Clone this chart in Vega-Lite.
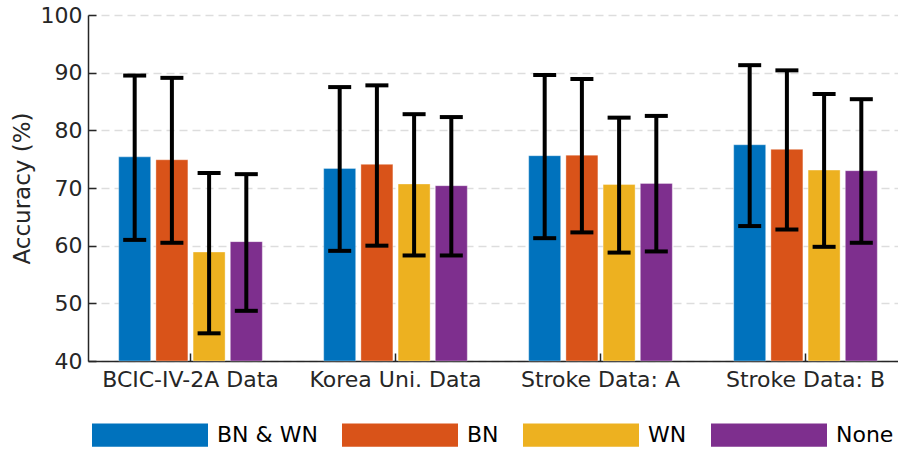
{
  "$schema": "https://vega.github.io/schema/vega-lite/v6.json",
  "width": 820,
  "height": 346,
  "autosize": {"type": "none"},
  "padding": {"left": 88, "top": 15, "right": -10, "bottom": 90},
  "background": "white",
  "config": {"view": {"stroke": null}, "font": "DejaVu Sans"},
  "data": {
    "values": [
      {"dataset": "BCIC-IV-2A Data", "norm": "BN & WN", "mean": 75.4, "lo": 61.0, "hi": 89.5},
      {"dataset": "BCIC-IV-2A Data", "norm": "BN", "mean": 74.9, "lo": 60.5, "hi": 89.1},
      {"dataset": "BCIC-IV-2A Data", "norm": "WN", "mean": 58.9, "lo": 44.8, "hi": 72.6},
      {"dataset": "BCIC-IV-2A Data", "norm": "None", "mean": 60.7, "lo": 48.7, "hi": 72.4},
      {"dataset": "Korea Uni. Data", "norm": "BN & WN", "mean": 73.4, "lo": 59.1, "hi": 87.5},
      {"dataset": "Korea Uni. Data", "norm": "BN", "mean": 74.1, "lo": 60.0, "hi": 87.8},
      {"dataset": "Korea Uni. Data", "norm": "WN", "mean": 70.7, "lo": 58.3, "hi": 82.8},
      {"dataset": "Korea Uni. Data", "norm": "None", "mean": 70.4, "lo": 58.3, "hi": 82.3},
      {"dataset": "Stroke Data: A", "norm": "BN & WN", "mean": 75.6, "lo": 61.3, "hi": 89.6},
      {"dataset": "Stroke Data: A", "norm": "BN", "mean": 75.7, "lo": 62.3, "hi": 88.9},
      {"dataset": "Stroke Data: A", "norm": "WN", "mean": 70.6, "lo": 58.8, "hi": 82.2},
      {"dataset": "Stroke Data: A", "norm": "None", "mean": 70.8, "lo": 59.0, "hi": 82.5},
      {"dataset": "Stroke Data: B", "norm": "BN & WN", "mean": 77.5, "lo": 63.4, "hi": 91.3},
      {"dataset": "Stroke Data: B", "norm": "BN", "mean": 76.7, "lo": 62.8, "hi": 90.4},
      {"dataset": "Stroke Data: B", "norm": "WN", "mean": 73.1, "lo": 59.8, "hi": 86.3},
      {"dataset": "Stroke Data: B", "norm": "None", "mean": 73.0, "lo": 60.5, "hi": 85.4}
    ]
  },
  "encoding": {
    "x": {
      "field": "dataset",
      "type": "nominal",
      "sort": ["BCIC-IV-2A Data", "Korea Uni. Data", "Stroke Data: A", "Stroke Data: B"],
      "scale": {"paddingInner": 0.274, "paddingOuter": 0.137},
      "axis": {
        "title": null,
        "labelAngle": 0,
        "labelFontSize": 22,
        "labelColor": "#262626",
        "labelPadding": 16,
        "tickSize": -8,
        "tickColor": "#262626",
        "tickWidth": 1.5,
        "domainColor": "#262626",
        "domainWidth": 1.5,
        "grid": false
      }
    },
    "xOffset": {
      "field": "norm",
      "type": "nominal",
      "sort": ["BN & WN", "BN", "WN", "None"],
      "scale": {"paddingInner": 0.14, "paddingOuter": 0.07}
    }
  },
  "layer": [
    {
      "mark": {"type": "bar", "stroke": "white", "strokeOpacity": 0.35, "strokeWidth": 1},
      "encoding": {
        "y": {
          "field": "mean",
          "type": "quantitative",
          "title": "Accuracy (%)",
          "scale": {"domain": [40, 100], "nice": false, "zero": false},
          "axis": {
            "values": [40, 50, 60, 70, 80, 90, 100],
            "titleFontSize": 23,
            "titleFontWeight": "normal",
            "titleColor": "#262626",
            "titlePadding": 6,
            "labelFontSize": 22,
            "labelColor": "#262626",
            "labelPadding": 14,
            "tickSize": -8,
            "tickColor": "#262626",
            "tickWidth": 1.5,
            "domainColor": "#262626",
            "domainWidth": 1.5,
            "grid": true,
            "gridDash": [8, 5],
            "gridColor": "#dddddd",
            "gridWidth": 1.5
          }
        },
        "y2": {"datum": 40},
        "color": {
          "field": "norm",
          "type": "nominal",
          "scale": {
            "domain": ["BN & WN", "BN", "WN", "None"],
            "range": ["#0072BD", "#D95319", "#EDB120", "#7E2F8E"]
          },
          "legend": {
            "orient": "none",
            "direction": "horizontal",
            "legendX": 4,
            "legendY": 362,
            "title": null,
            "symbolType": "M-1,-0.2H1V0.2H-1Z",
            "symbolSize": 13456,
            "symbolStrokeWidth": 0,
            "symbolOpacity": 1,
            "labelFontSize": 22,
            "labelColor": "black",
            "labelOffset": 9,
            "columnPadding": 24
          }
        }
      }
    },
    {
      "mark": {"type": "rule", "color": "black", "strokeWidth": 4},
      "encoding": {
        "y": {"field": "lo", "type": "quantitative", "title": "Accuracy (%)"},
        "y2": {"field": "hi"}
      }
    },
    {
      "mark": {"type": "tick", "color": "black", "orient": "horizontal", "size": 23, "thickness": 4, "opacity": 1},
      "encoding": {
        "y": {"field": "lo", "type": "quantitative", "title": "Accuracy (%)"}
      }
    },
    {
      "mark": {"type": "tick", "color": "black", "orient": "horizontal", "size": 23, "thickness": 4, "opacity": 1},
      "encoding": {
        "y": {"field": "hi", "type": "quantitative", "title": "Accuracy (%)"}
      }
    }
  ]
}
